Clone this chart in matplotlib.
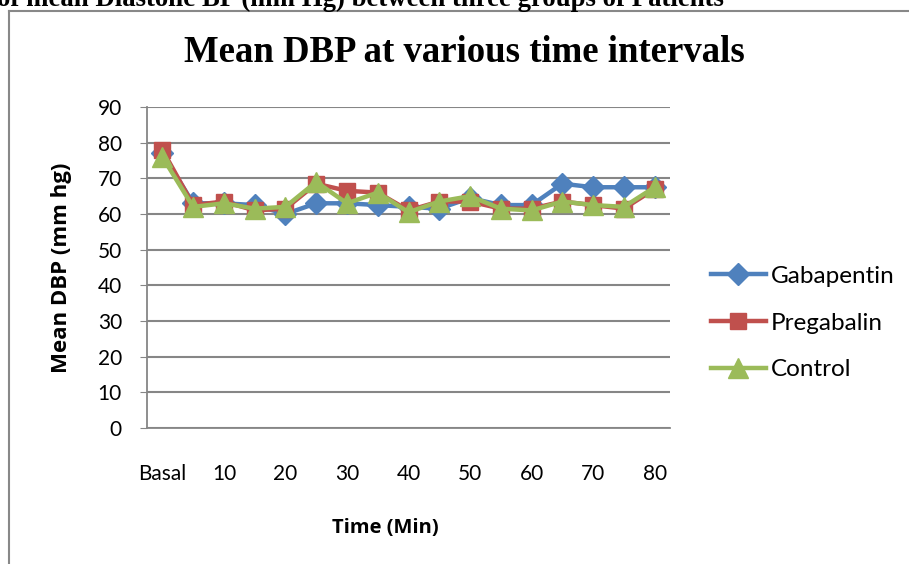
import matplotlib.pyplot as plt
from matplotlib.lines import Line2D

times = ['Basal', '5', '10', '15', '20', '25', '30', '35', '40',
         '45', '50', '55', '60', '65', '70', '75', '80']
gabapentin = [77, 63, 63, 62.5, 60, 63, 63, 62.5, 62, 61.5, 64.5, 62.5, 62.5, 68.5, 67.5, 67.5, 67.5]
pregabalin = [78, 62.5, 63.5, 61, 61.5, 68.5, 66.5, 66, 61, 63.5, 63.5, 61.5, 61.5, 63.5, 62.5, 61.5, 67]
control = [76, 62, 63, 61.5, 62, 69, 63, 66, 60.5, 63.5, 65, 61.5, 61, 63.5, 62.5, 62, 67.5]
series_names = ['Gabapentin', 'Pregabalin', 'Control']
colors = ['#4F81BD', '#C0504D', '#9BBB59']
markers = ['D', 's', '^']
msizes = [11.5, 12, 14]

W, H = 909, 564
fig = plt.figure(figsize=(W / 100, H / 100), dpi=100)

def fx(px):
    return px / W

def fy(py):
    return 1 - py / H

# cropped caption from the page above the chart
fig.text(fx(-3), fy(6), 'of mean Diastolic BP (mm Hg) between three groups of Patients',
         family='Liberation Serif', weight='bold', size=19.3, va='baseline', ha='left')

# chart area border (only left and top visible)
border = '#888888'
fig.add_artist(Line2D([fx(8.5), fx(8.5)], [0, fy(11)], color=border, lw=1.5))
fig.add_artist(Line2D([fx(8.5), 1], [fy(11), fy(11)], color=border, lw=1.5))

fig.text(fx(464), fy(53), 'Mean DBP at various time intervals',
         family='Liberation Serif', weight='bold', size=26.5, ha='center', va='center')

ax = fig.add_axes([fx(147), fy(428), fx(670) - fx(147), fy(107) - fy(428)])
x = list(range(len(times)))
data = [gabapentin, pregabalin, control]
for vals, name, c, m, ms in zip(data, series_names, colors, markers, msizes):
    ax.plot(x, vals, color=c, lw=3.2, marker=m, markersize=ms, label=name)

ax.set_xlim(-0.5, len(times) - 0.5)
ax.set_ylim(0, 90)
ax.set_yticks(range(0, 91, 10))
ax.set_xticks(x[::2])
ax.set_xticklabels(times[::2])
ax.yaxis.grid(True, color='#868686', lw=1.5)
ax.set_axisbelow(True)
for s in ['top', 'right']:
    ax.spines[s].set_visible(False)
for s in ['left', 'bottom']:
    ax.spines[s].set_color('#868686')
    ax.spines[s].set_linewidth(1.3)
ax.tick_params(axis='x', length=0, pad=26, labelsize=15)
ax.tick_params(axis='y', length=5, color='#868686', pad=13, labelsize=15)
for lab in ax.get_xticklabels() + ax.get_yticklabels():
    lab.set_family('Lato')

ax.set_xlabel('Time (Min)', family='Open Sans', weight='bold', size=14.5)
ax.xaxis.set_label_coords((385 - 147) / 523, -(528 - 428) / 321)
ax.set_ylabel('Mean DBP (mm hg)', family='Open Sans', weight='bold', size=16)
ax.yaxis.set_label_coords(-(147 - 62) / 523, 0.5)
ax.yaxis.label.set_va('center')
ax.xaxis.label.set_va('center')

leg = fig.legend(loc='center left', bbox_to_anchor=(fx(711), fy(323)), frameon=False,
                 prop={'family': 'Lato', 'size': 17.5}, handlelength=2.25,
                 handletextpad=0.2, labelspacing=1.05, borderpad=0, borderaxespad=0)

fig.savefig('out.png', dpi=100)
